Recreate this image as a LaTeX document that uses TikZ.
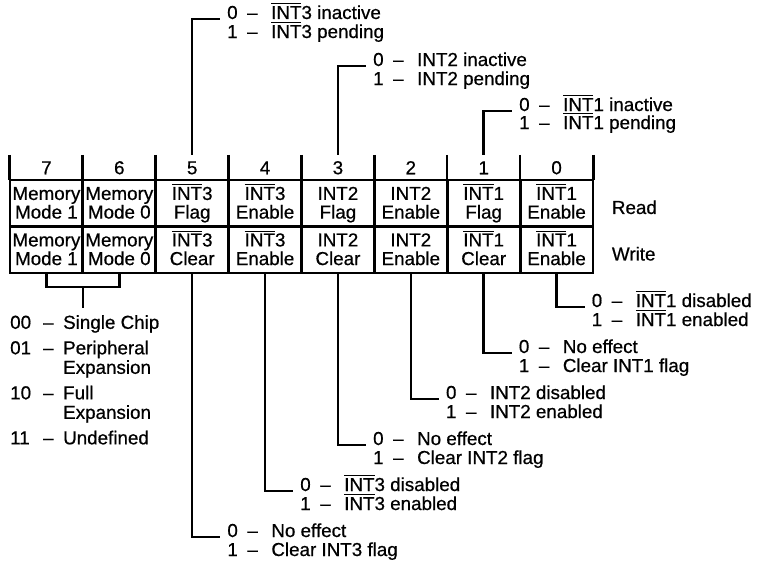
\documentclass[tikz,border=0pt]{standalone}
\usepackage{fontspec}
\setmainfont{Liberation Sans}[FakeBold=0.6]
\usetikzlibrary{positioning}

\newcommand\ovl[1]{\vbox{\hrule height 1.4pt\kern 1.6pt\hbox{#1}}}
\newcommand\opt[2]{\makebox[20pt][l]{#1}\makebox[24pt][l]{--}#2}
\newcommand\mmopt[2]{\makebox[33pt][l]{#1}\makebox[20pt][l]{--}#2}
\newcommand\cellt[2]{\rule[-4pt]{0pt}{20.5pt}#1\\\rule[-4.5pt]{0pt}{17.5pt}#2}

\begin{document}
\begin{tikzpicture}
  [x=1pt,y=-1pt,
   every node/.style={font=\fontsize{18.8}{17.5}\selectfont},
   cell/.style={draw,line width=2.8pt,minimum width=72.875pt,minimum height=46.5pt,inner sep=0pt,align=center},
   hdr/.style={minimum width=72.875pt,minimum height=25pt,inner sep=0pt,text height=13.5pt,text depth=0pt},
   lbl/.style={anchor=base west,inner xsep=7pt,inner ysep=0pt},
   wire/.style={line width=2.4pt}]
  \useasboundingbox (0,0) rectangle (763,562);
  % bit numbers and ticks
  \foreach \b in {7,6,...,0}
    \node[hdr] (h\b) at ({10+72.875*(7.5-\b)},167.5) {\b};
  \foreach \b in {7,6,...,0}
    \draw[line width=2.8pt] (h\b.north west) -- (h\b.south west);
  \draw[line width=2.8pt] (h0.north east) -- (h0.south east);
  % register cells
  \foreach \b/\rtext/\wtext in {7/{\cellt{Memory}{Mode 1}}/{\cellt{Memory}{Mode 1}},
      6/{\cellt{Memory}{Mode 0}}/{\cellt{Memory}{Mode 0}},
      5/{\cellt{\ovl{INT}3}{Flag}}/{\cellt{\ovl{INT}3}{Clear}},
      4/{\cellt{\ovl{INT}3}{Enable}}/{\cellt{\ovl{INT}3}{Enable}},
      3/{\cellt{INT2}{Flag}}/{\cellt{INT2}{Clear}},
      2/{\cellt{INT2}{Enable}}/{\cellt{INT2}{Enable}},
      1/{\cellt{\ovl{INT}1}{Flag}}/{\cellt{\ovl{INT}1}{Clear}},
      0/{\cellt{\ovl{INT}1}{Enable}}/{\cellt{\ovl{INT}1}{Enable}}} {
    \node[cell] (r\b) at ({10+72.875*(7.5-\b)},203.25) {\rtext};
    \node[cell] (w\b) at ({10+72.875*(7.5-\b)},249.75) {\wtext};
  }
  \node[right=14pt of r0,yshift=-4pt] (rd) {Read};
  \node[right=14pt of w0,yshift=-4pt] (wr) {Write};
  % read side
  \node[lbl] (t5) at (220,19) {\opt{0}{\ovl{INT}3 inactive}};
  \node[lbl] (t5b) at (220,38) {\opt{1}{\ovl{INT}3 pending}};
  \node[lbl] (t3) at (366,66) {\opt{0}{INT2 inactive}};
  \node[lbl] (t3b) at (366,85) {\opt{1}{INT2 pending}};
  \node[lbl] (t1) at (512,111) {\opt{0}{\ovl{INT}1 inactive}};
  \node[lbl] (t1b) at (512,129) {\opt{1}{\ovl{INT}1 pending}};
  \foreach \b in {5,3,1}
    \draw[wire] (h\b.north) |- (t\b.base west);
  % write side
  \foreach \b/\zero/\one in {0/{\ovl{INT}1 disabled}/{\ovl{INT}1 enabled},
      1/{No effect}/{Clear INT1 flag},
      2/{INT2 disabled}/{INT2 enabled},
      3/{No effect}/{Clear INT2 flag},
      4/{\ovl{INT}3 disabled}/{\ovl{INT}3 enabled},
      5/{No effect}/{Clear INT3 flag}} {
    \node[lbl] (b\b) at ({38+72.875*(7.5-\b)},{307+46*\b}) {\opt{0}{\zero}};
    \node[lbl] (b\b b) at ({38+72.875*(7.5-\b)},{326+46*\b}) {\opt{1}{\one}};
    \draw[wire] (w\b.south) |- (b\b.base west);
  }
  % memory mode bits
  \coordinate (mmjoin) at (83,287);
  \coordinate (mmtip) at (83,308);
  \draw[wire] (w7.south) |- (mmjoin) -| (w6.south);
  \draw[wire] (mmjoin) -- (mmtip);
  \node[anchor=north west,inner sep=0pt,align=left,font=\fontsize{18.8}{19.5}\selectfont] (mm) at (10,315)
    {\mmopt{00}{Single Chip}\\[6pt]
     \mmopt{01}{Peripheral}\\
     \hspace*{53pt}Expansion\\[6pt]
     \mmopt{10}{Full}\\
     \hspace*{53pt}Expansion\\[6pt]
     \mmopt{11}{Undefined}};
\end{tikzpicture}
\end{document}
